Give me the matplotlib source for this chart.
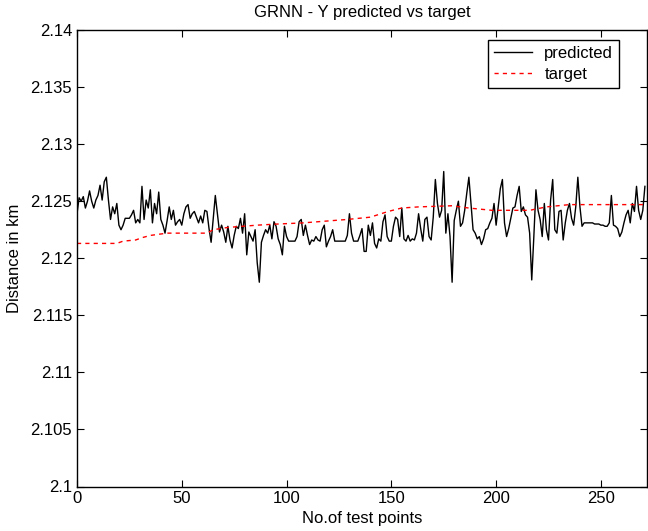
import matplotlib
matplotlib.use("Agg")
import matplotlib.pyplot as plt
import numpy as np

predicted = [
    2.1239, 2.1253, 2.1250, 2.1254, 2.1244, 2.1250, 2.1259, 2.1250, 2.1244, 2.1251,
    2.1255, 2.1264, 2.1251, 2.1267, 2.1271, 2.1251, 2.1234, 2.1245, 2.1239, 2.1248,
    2.1229, 2.1225, 2.1229, 2.1235, 2.1235, 2.1235, 2.1238, 2.1242, 2.1231, 2.1234,
    2.1231, 2.1263, 2.1234, 2.1251, 2.1244, 2.1260, 2.1231, 2.1248, 2.1239, 2.1258,
    2.1234, 2.1229, 2.1222, 2.1233, 2.1245, 2.1234, 2.1242, 2.1229, 2.1232, 2.1234,
    2.1229, 2.1239, 2.1245, 2.1247, 2.1235, 2.1239, 2.1241, 2.1236, 2.1231, 2.1237,
    2.1231, 2.1242, 2.1241, 2.1226, 2.1214, 2.1234, 2.1255, 2.1239, 2.1223, 2.1229,
    2.1223, 2.1214, 2.1228, 2.1216, 2.1209, 2.1220, 2.1228, 2.1226, 2.1235, 2.1222,
    2.1239, 2.1203, 2.1223, 2.1219, 2.1215, 2.1225, 2.1196, 2.1179, 2.1214, 2.1220,
    2.1225, 2.1222, 2.1229, 2.1217, 2.1232, 2.1228, 2.1217, 2.1212, 2.1203, 2.1228,
    2.1219, 2.1215, 2.1215, 2.1215, 2.1215, 2.1219, 2.1232, 2.1234, 2.1220, 2.1229,
    2.1220, 2.1212, 2.1216, 2.1215, 2.1219, 2.1216, 2.1215, 2.1225, 2.1229, 2.1210,
    2.1215, 2.1219, 2.1225, 2.1215, 2.1215, 2.1215, 2.1215, 2.1215, 2.1215, 2.1220,
    2.1239, 2.1222, 2.1215, 2.1215, 2.1215, 2.1220, 2.1226, 2.1206, 2.1206, 2.1229,
    2.1220, 2.1231, 2.1213, 2.1209, 2.1217, 2.1215, 2.1232, 2.1238, 2.1219, 2.1215,
    2.1215, 2.1228, 2.1236, 2.1234, 2.1219, 2.1244, 2.1217, 2.1215, 2.1220, 2.1215,
    2.1217, 2.1216, 2.1222, 2.1239, 2.1226, 2.1215, 2.1234, 2.1236, 2.1219, 2.1216,
    2.1236, 2.1269, 2.1248, 2.1236, 2.1242, 2.1276, 2.1222, 2.1239, 2.1219, 2.1179,
    2.1233, 2.1242, 2.1250, 2.1228, 2.1231, 2.1242, 2.1257, 2.1271, 2.1248, 2.1225,
    2.1222, 2.1217, 2.1219, 2.1212, 2.1217, 2.1225, 2.1226, 2.1231, 2.1235, 2.1248,
    2.1229, 2.1245, 2.1261, 2.1269, 2.1231, 2.1219, 2.1226, 2.1235, 2.1244, 2.1245,
    2.1255, 2.1263, 2.1241, 2.1245, 2.1238, 2.1236, 2.1222, 2.1181, 2.1219, 2.1260,
    2.1242, 2.1234, 2.1219, 2.1248, 2.1225, 2.1216, 2.1251, 2.1269, 2.1225, 2.1222,
    2.1241, 2.1242, 2.1216, 2.1231, 2.1242, 2.1248, 2.1235, 2.1229, 2.1245, 2.1271,
    2.1245, 2.1228, 2.1231, 2.1231, 2.1231, 2.1231, 2.1231, 2.1230, 2.1230, 2.1230,
    2.1229, 2.1229, 2.1228, 2.1228, 2.1231, 2.1255, 2.1229, 2.1228, 2.1226, 2.1219,
    2.1223, 2.1231, 2.1238, 2.1242, 2.1231, 2.1248, 2.1241, 2.1263, 2.1242, 2.1234,
    2.1242, 2.1263,
]

target_x = [0, 19, 22, 28, 31, 35, 43, 62, 65, 72, 86, 96, 108, 129, 140,
            148.5, 154.9, 163, 179, 187, 198, 216, 224, 235, 271]
target_y = [2.1213, 2.1213, 2.1215, 2.1216, 2.1218, 2.1220, 2.1222, 2.1222, 2.1225,
            2.1227, 2.1229, 2.1230, 2.1231, 2.1234, 2.1236, 2.1241, 2.1244, 2.1245,
            2.1246, 2.1244, 2.1242, 2.1242, 2.1245, 2.1247, 2.1247]

x_ticks = [0, 50, 100, 150, 200, 250]
y_ticks = [2.1, 2.105, 2.11, 2.115, 2.12, 2.125, 2.13, 2.135, 2.14]
y_ticklabels = ["2.1", "2.105", "2.11", "2.115", "2.12", "2.125", "2.13", "2.135", "2.14"]

plt.rcParams['font.family'] = ['Liberation Sans', 'DejaVu Sans']
fig = plt.figure(figsize=(6.48, 5.31), dpi=100)
ax = fig.add_axes([77/648, 1-486.5/531, 570/648, 456.5/531])

x = np.arange(len(predicted))
ax.plot(x, predicted, color='black', lw=1.0, label='predicted')
ax.plot(target_x, target_y, color='red', lw=1.0, ls=(0, (3, 3)), label='target')

ax.set_xlim(0, 272)
ax.set_ylim(2.1, 2.14)
ax.set_xticks(x_ticks)
ax.set_xticklabels([str(t) for t in x_ticks])
ax.set_yticks(y_ticks)
ax.set_yticklabels(y_ticklabels)
ax.tick_params(direction='in', top=True, right=True, length=5, labelsize=12)
for s in ax.spines.values():
    s.set_linewidth(1.0)
ax.set_xlabel('No.of test points', fontsize=12, labelpad=3)
ax.set_ylabel('Distance in km', fontsize=12, labelpad=6)
ax.set_title('GRNN - Y predicted vs target', fontsize=12, pad=9)
leg = ax.legend(loc='upper right', bbox_to_anchor=(0.951, 0.978), borderaxespad=0,
                fancybox=False, edgecolor='black', framealpha=1, fontsize=12,
                handlelength=2.3, handletextpad=0.75, borderpad=0.35, labelspacing=0.35)
leg.get_frame().set_linewidth(1.0)

fig.savefig('out.png', dpi=100)
